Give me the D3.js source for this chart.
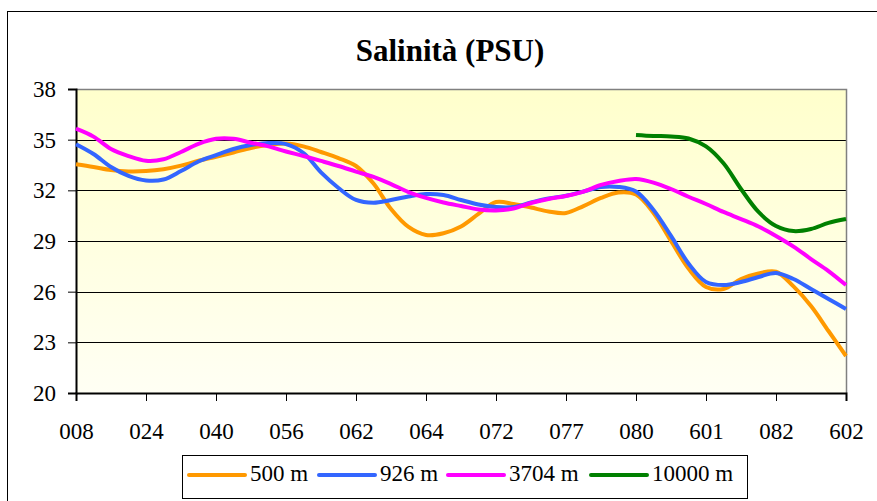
<!DOCTYPE html>
<html>
<head>
<meta charset="utf-8">
<script src="https://cdn.jsdelivr.net/npm/d3@7"></script>
</head>
<body style="margin:0">
<div id="graph"></div>
<script>
var width = 877;
var height = 501;
var fontName = '"Liberation Serif"';

// station labels, one every 4 samples
var labels = ["008", "024", "040", "056", "062", "064", "072", "077", "080", "601", "082", "602"];
var yTicks = [20, 23, 26, 29, 32, 35, 38];

var s500 = [33.54, 33.38, 33.20, 33.12, 33.14, 33.25, 33.46, 33.75, 33.99, 34.24, 34.51, 34.68,
    34.77, 34.60, 34.27, 33.91, 33.44, 32.40, 30.89, 29.83, 29.36, 29.46, 29.86, 30.60,
    31.31, 31.19, 30.98, 30.75, 30.66, 31.07, 31.55, 31.87, 31.75, 30.66, 29.00, 27.37,
    26.28, 26.16, 26.75, 27.08, 27.18, 26.31, 25.15, 23.67, 22.19];
var s926 = [34.73, 34.15, 33.38, 32.85, 32.58, 32.64, 33.14, 33.71, 34.09, 34.45, 34.68, 34.80,
    34.74, 34.21, 33.06, 32.14, 31.43, 31.27, 31.43, 31.63, 31.78, 31.72, 31.43, 31.16,
    31.01, 31.01, 31.28, 31.52, 31.68, 31.93, 32.20, 32.20, 31.93, 30.84, 29.30, 27.67,
    26.57, 26.39, 26.57, 26.87, 27.11, 26.75, 26.16, 25.57, 24.97];
var s3704 = [35.65, 35.18, 34.45, 34.03, 33.75, 33.84, 34.27, 34.75, 35.05, 35.05, 34.82, 34.60,
    34.30, 34.03, 33.74, 33.44, 33.11, 32.79, 32.37, 31.90, 31.55, 31.28, 31.07, 30.87,
    30.81, 30.92, 31.25, 31.49, 31.66, 31.92, 32.32, 32.55, 32.67, 32.46, 32.08, 31.62,
    31.19, 30.72, 30.30, 29.86, 29.30, 28.67, 27.93, 27.22, 26.39];
// 10000 m series starts at station 080 (sample 32)
var start10000 = 32;
var s10000 = [35.28, 35.22, 35.19, 35.07, 34.60, 33.60, 32.08, 30.72, 29.89, 29.59, 29.71, 30.07, 30.30];

var seriesNames = ["500 m", "926 m", "3704 m", "10000 m"];
var colors = ["#FF9900", "#3366FF", "#FF00FF", "#008000"];

var series = [
    s500.map(function(v, i) { return [i, v]; }),
    s926.map(function(v, i) { return [i, v]; }),
    s3704.map(function(v, i) { return [i, v]; }),
    s10000.map(function(v, i) { return [i + start10000, v]; })
];

var margin = { left: 76, top: 89, right: 31, bottom: 108 };
var plotW = width - margin.left - margin.right;
var plotH = height - margin.top - margin.bottom;

var svg = d3.select('#graph')
    .append('svg')
    .attr('width', width)
    .attr('height', height)
    .style('display', 'block');

var defs = svg.append('defs');
var grad = defs.append('linearGradient')
    .attr('id', 'bg')
    .attr('x1', 0).attr('y1', 0).attr('x2', 0).attr('y2', 1);
grad.append('stop').attr('offset', '0%').attr('stop-color', '#FFFFCC');
grad.append('stop').attr('offset', '100%').attr('stop-color', '#FFFFF4');

// outer chart frame
svg.append('rect')
    .attr('x', 7.5).attr('y', 11.5)
    .attr('width', 900).attr('height', 600)
    .attr('fill', '#fff')
    .attr('stroke', '#000');

svg.append('text')
    .attr('x', 450)
    .attr('y', 61)
    .attr('text-anchor', 'middle')
    .style('font-family', fontName)
    .style('font-weight', 'bold')
    .style('font-size', '31px')
    .text('Salinità (PSU)');

var x = d3.scaleLinear()
    .domain([0, s500.length - 1])
    .range([margin.left, margin.left + plotW]);

var y = d3.scaleLinear()
    .domain([20, 38])
    .range([margin.top + plotH, margin.top]);

svg.append('rect')
    .attr('x', margin.left).attr('y', margin.top)
    .attr('width', plotW).attr('height', plotH)
    .attr('fill', 'url(#bg)');

// gridlines
svg.append('g')
    .selectAll('line')
    .data(yTicks.slice(1, -1))
    .enter()
    .append('line')
    .attr('x1', margin.left).attr('x2', margin.left + plotW)
    .attr('y1', function(d) { return Math.round(y(d)) + 0.5; })
    .attr('y2', function(d) { return Math.round(y(d)) + 0.5; })
    .attr('stroke', '#000')
    .attr('stroke-width', 1);

// top and right plot border
svg.append('path')
    .attr('d', 'M' + margin.left + ',' + (margin.top + 0.5) + 'H' + (margin.left + plotW + 0.5) + 'V' + (margin.top + plotH))
    .attr('fill', 'none')
    .attr('stroke', '#808080')
    .attr('stroke-width', 1.5);

var yAxis = d3.axisLeft(y)
    .tickValues(yTicks)
    .tickSize(8)
    .tickPadding(12)
    .tickFormat(d3.format('d'));

var gy = svg.append('g')
    .attr('transform', 'translate(' + margin.left + ',0)')
    .call(yAxis);

var labelIdx = labels.map(function(d, i) { return i * 4; });
var xAxis = d3.axisBottom(x)
    .tickValues(labelIdx)
    .tickSize(8)
    .tickPadding(22)
    .tickFormat(function(d) { return labels[d / 4]; });

var gx = svg.append('g')
    .attr('transform', 'translate(0,' + (margin.top + plotH) + ')')
    .call(xAxis);

[gx, gy].forEach(function(g) {
    g.attr('font-family', null).attr('font-size', null);
    g.select('.domain').attr('stroke', '#000').attr('stroke-width', 2);
    g.selectAll('.tick line').attr('stroke', '#000').attr('stroke-width', 1);
    g.selectAll('.tick text')
        .attr('fill', '#000')
        .style('font-size', '23px')
        .style('font-family', fontName);
});

var line = d3.line()
    .x(function(d) { return x(d[0]); })
    .y(function(d) { return y(d[1]); })
    .curve(d3.curveCatmullRom);

svg.append('g')
    .selectAll('path')
    .data(series)
    .enter()
    .append('path')
    .attr('d', line)
    .attr('fill', 'none')
    .attr('stroke', function(d, i) { return colors[i]; })
    .attr('stroke-width', 4)
    .attr('stroke-linejoin', 'round');

// legend
var legend = svg.append('g');
legend.append('rect')
    .attr('x', 182.5).attr('y', 455.5)
    .attr('width', 565).attr('height', 43)
    .attr('fill', '#fff')
    .attr('stroke', '#000');

var legendX = [189, 319, 448, 591];
var item = legend.selectAll('g.item')
    .data(seriesNames)
    .enter()
    .append('g')
    .attr('class', 'item')
    .attr('transform', function(d, i) { return 'translate(' + legendX[i] + ',475)'; });

item.append('line')
    .attr('x1', 0).attr('x2', 56)
    .attr('stroke', function(d, i) { return colors[i]; })
    .attr('stroke-width', 4)
    .attr('stroke-linecap', 'round');

item.append('text')
    .attr('x', 61)
    .attr('y', 6)
    .style('font-family', fontName)
    .style('font-size', '23px')
    .text(function(d) { return d; });
</script>
</body>
</html>
